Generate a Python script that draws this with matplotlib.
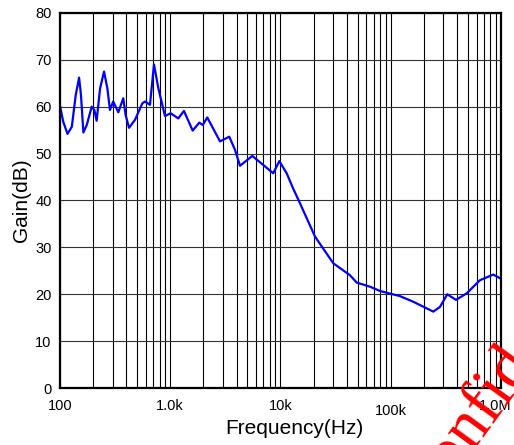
import matplotlib
matplotlib.use("Agg")
import matplotlib.pyplot as plt
from matplotlib.ticker import FixedLocator, FixedFormatter, NullFormatter
from matplotlib.transforms import ScaledTranslation

plt.rcParams['font.family'] = ['Liberation Sans', 'DejaVu Sans']

# measured open-loop gain
freq = [100, 107, 117, 128, 139, 149, 155, 163, 175, 194, 205, 215, 231, 251,
        269, 284, 304, 338, 375, 394, 423, 479, 558, 590, 655, 712, 779, 896,
        1009, 1183, 1332, 1598, 1834, 1970, 2168, 2827, 3432, 3866, 4293,
        5549, 8603, 9753, 11380, 13000, 15030, 20560, 30120, 42500, 49110,
        65000, 79880, 121300, 160100, 243100, 279700, 325700, 390700, 488600,
        644900, 851500, 1000000]
gain = [60.2, 56.8, 54.2, 55.7, 62.5, 66.2, 62.5, 54.5, 56.1, 60.0, 59.3,
        57.0, 63.9, 67.5, 63.9, 59.3, 61.1, 58.8, 61.8, 58.2, 55.5, 57.2,
        60.7, 61.1, 60.4, 69.0, 64.0, 58.0, 58.6, 57.5, 59.1, 54.9, 56.6,
        56.1, 57.7, 52.6, 53.6, 50.8, 47.4, 49.5, 45.8, 48.4, 45.8, 42.6,
        39.4, 32.3, 26.6, 24.1, 22.5, 21.6, 20.7, 19.6, 18.4, 16.3, 17.3,
        20.0, 18.8, 20.2, 23.0, 24.2, 23.3]

xticks = [100, 1e3, 1e4, 1e5, 1e6]
xtick_labels = ['100', '1.0k', '10k', '100k', '1.0M']
yticks = [0, 10, 20, 30, 40, 50, 60, 70, 80]

fig = plt.figure(figsize=(5.14, 4.45), dpi=100)
ax = fig.add_axes([0.1167, 0.128, 0.858, 0.843])

ax.semilogx(freq, gain, color='#0000ff', lw=1.6, solid_joinstyle='round')

ax.set_xlim(100, 1e6)
ax.set_ylim(0, 80)
ax.xaxis.set_major_locator(FixedLocator(xticks))
ax.xaxis.set_major_formatter(FixedFormatter(xtick_labels))
ax.xaxis.set_minor_formatter(NullFormatter())
ax.set_yticks(yticks)

ax.grid(True, which='both', axis='x', color='k', lw=0.8)
ax.grid(True, which='major', axis='y', color='#333333', lw=0.8)
ax.tick_params(which='both', length=0)
ax.tick_params(axis='x', pad=8, labelsize=10.5)
ax.tick_params(axis='y', pad=6, labelsize=10.5)
for s in ax.spines.values():
    s.set_linewidth(1.6)

# nudge two of the frequency labels: 100k a little lower, 1.0M inside the edge
ticks = ax.xaxis.get_major_ticks()
ticks[3].label1.set_y(-0.012)
lbl = ticks[4].label1
lbl.set_transform(lbl.get_transform() + ScaledTranslation(-6 / 100, 0, fig.dpi_scale_trans))

ax.set_xlabel('Frequency(Hz)', fontsize=15)
ax.xaxis.set_label_coords(0.531, -0.083)
ax.set_ylabel('Gain(dB)', fontsize=15, labelpad=3)

fig.text(510 / 514, 1 - 368 / 445, 'Confidential', color='#ff0000',
         family='Liberation Serif', fontsize=48, rotation=54,
         ha='center', va='center', rotation_mode='anchor')

fig.savefig('out.png', dpi=100)
